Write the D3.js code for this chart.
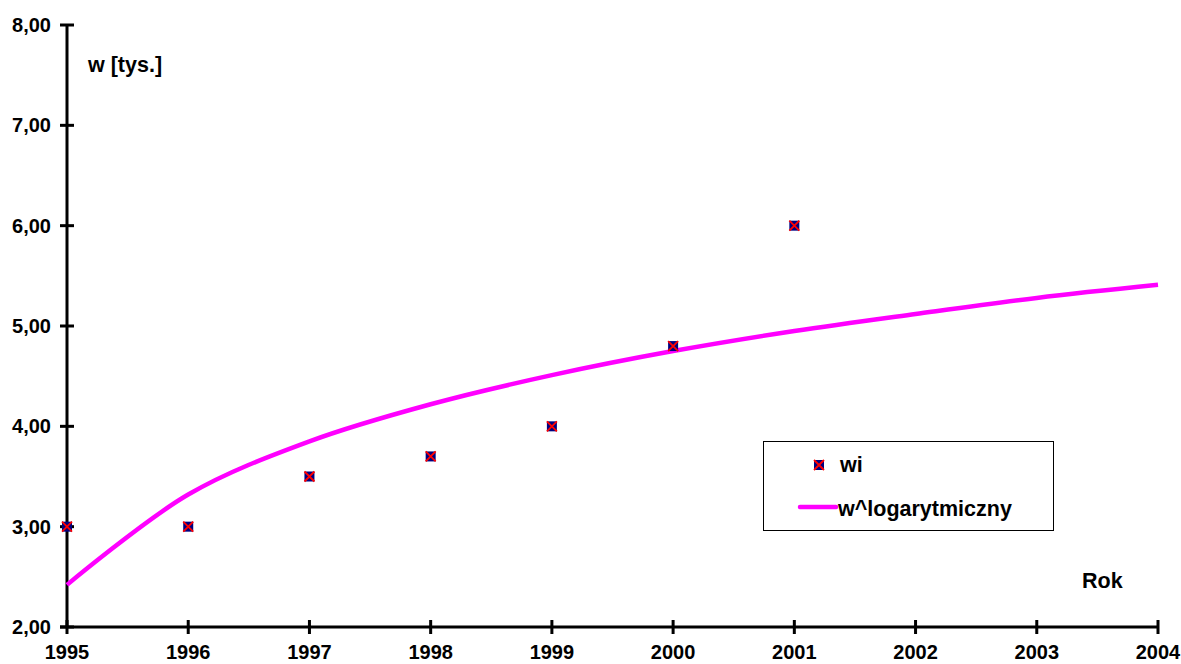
<!DOCTYPE html>
<html>
<head>
<meta charset="utf-8">
<script src="https://cdn.jsdelivr.net/npm/d3@7"></script>
<style>
  html, body { margin: 0; padding: 0; background: #fff; }
  svg { display: block; }
  svg text { font-family: "Liberation Sans", Arial, sans-serif; font-weight: 700; fill: #000; }
</style>
</head>
<body>
<svg id="chart" width="1181" height="664"></svg>
<script>
// Years on the x axis
const years = [1995, 1996, 1997, 1998, 1999, 2000, 2001, 2002, 2003, 2004];
// Observed values wi (thousands)
const obsYears = [1995, 1996, 1997, 1998, 1999, 2000, 2001];
const obsValues = [3.0, 3.0, 3.5, 3.7, 4.0, 4.8, 6.0];
// Logarithmic trend values
const logValues = [2.42, 3.32, 3.85, 4.22, 4.51, 4.75, 4.95, 5.12, 5.28, 5.41];
// Y tick labels
const yTicks = [2, 3, 4, 5, 6, 7, 8];
const yTickLabels = ["2,00", "3,00", "4,00", "5,00", "6,00", "7,00", "8,00"];

const svg = d3.select("#chart");
const x = d3.scaleLinear().domain([1995, 2004]).range([67, 1158]);
const y = d3.scaleLinear().domain([2, 8]).range([627, 25]);

// Y axis
const yAxis = svg.append("g");
yAxis.append("line")
  .attr("x1", x(1995)).attr("x2", x(1995))
  .attr("y1", y(8)).attr("y2", y(2))
  .attr("stroke", "#000").attr("stroke-width", 3);
yAxis.selectAll("line.tick").data(yTicks).join("line")
  .attr("class", "tick")
  .attr("x1", x(1995) - 7).attr("x2", x(1995) + 7)
  .attr("y1", d => y(d)).attr("y2", d => y(d))
  .attr("stroke", "#000").attr("stroke-width", 3);
yAxis.selectAll("text").data(yTicks).join("text")
  .attr("x", x(1995) - 16).attr("y", d => y(d) + 7)
  .attr("text-anchor", "end")
  .attr("font-size", 20)
  .text((d, i) => yTickLabels[i]);

// X axis
const xAxis = svg.append("g");
xAxis.append("line")
  .attr("x1", x(1995) - 7).attr("x2", x(2004))
  .attr("y1", y(2)).attr("y2", y(2))
  .attr("stroke", "#000").attr("stroke-width", 3);
xAxis.selectAll("line.tick").data(years).join("line")
  .attr("class", "tick")
  .attr("x1", d => x(d)).attr("x2", d => x(d))
  .attr("y1", y(2) - 7).attr("y2", y(2) + 7)
  .attr("stroke", "#000").attr("stroke-width", 3);
xAxis.selectAll("text").data(years).join("text")
  .attr("x", d => x(d)).attr("y", y(2) + 32)
  .attr("text-anchor", "middle")
  .attr("font-size", 20)
  .text(d => d);

// Axis titles
svg.append("text").attr("x", 88).attr("y", 72).attr("font-size", 21.5).text("w [tys.]");
svg.append("text").attr("x", 1082).attr("y", 588).attr("font-size", 21.5).text("Rok");

// Logarithmic trend line
const line = d3.line()
  .x((d, i) => x(years[i]))
  .y(d => y(d))
  .curve(d3.curveCatmullRom.alpha(0.5));
svg.append("path")
  .datum(logValues)
  .attr("d", line)
  .attr("fill", "none")
  .attr("stroke", "#ff00ff")
  .attr("stroke-width", 4.5);

// Markers: navy square with red cross
function marker(g, cx, cy) {
  const s = 5;
  g.append("rect").attr("x", cx - s).attr("y", cy - s).attr("width", 2 * s).attr("height", 2 * s)
    .attr("fill", "#000080");
  g.append("path")
    .attr("d", `M${cx - s},${cy - s}L${cx + s},${cy + s}M${cx + s},${cy - s}L${cx - s},${cy + s}`)
    .attr("stroke", "#ff0000").attr("stroke-width", 1.8);
}
const pts = svg.append("g");
obsValues.forEach((v, i) => marker(pts, x(obsYears[i]), y(v)));

// Legend
const lg = svg.append("g");
lg.append("rect").attr("x", 763.5).attr("y", 441.5).attr("width", 290).attr("height", 89)
  .attr("fill", "#fff").attr("stroke", "#000").attr("stroke-width", 1);
marker(lg, 819, 465);
lg.append("text").attr("x", 840).attr("y", 472).attr("font-size", 21.5).text("wi");
lg.append("line").attr("x1", 800).attr("x2", 836).attr("y1", 507).attr("y2", 507)
  .attr("stroke", "#ff00ff").attr("stroke-width", 4.5).attr("stroke-linecap", "round");
lg.append("text").attr("x", 838).attr("y", 516).attr("font-size", 21.5).text("w^logarytmiczny");
</script>
</body>
</html>
